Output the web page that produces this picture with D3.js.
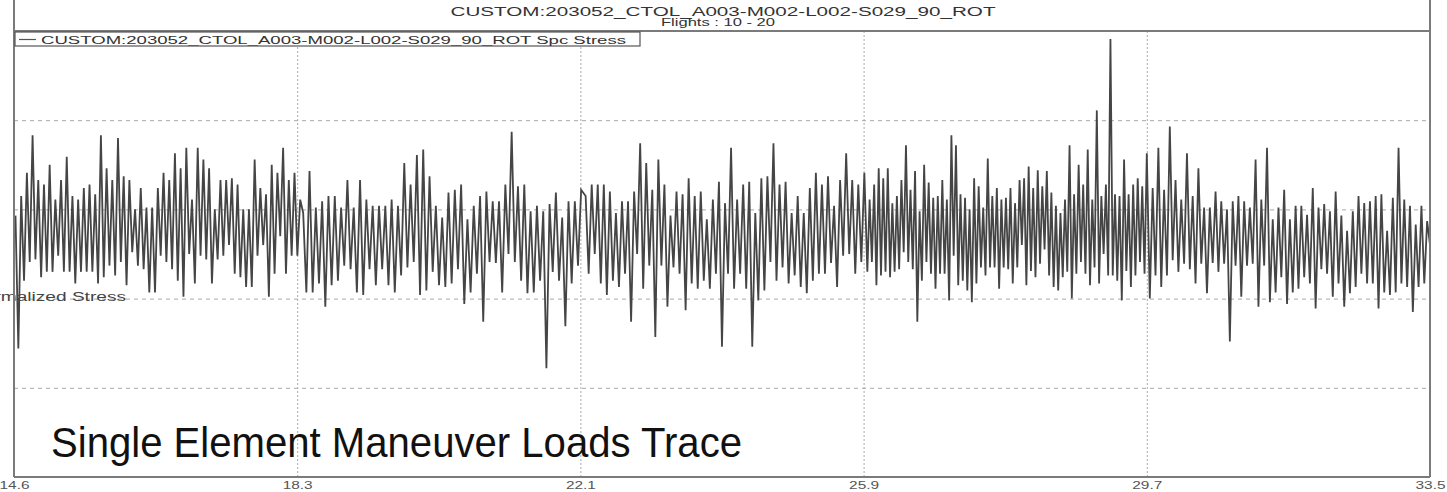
<!DOCTYPE html>
<html>
<head>
<meta charset="utf-8">
<script src="https://cdn.jsdelivr.net/npm/d3@7"></script>
<style>
  body { margin: 0; background: #fff; }
  svg { display: block; font-family: "Liberation Sans", Arial, sans-serif; }
</style>
</head>
<body>
<div class="canvas"></div>
<script>
// chart texts
const title = 'CUSTOM:203052_CTOL_A003-M002-L002-S029_90_ROT';
const subtitle = 'Flights : 10 - 20';
const legendLabel = 'CUSTOM:203052_CTOL_A003-M002-L002-S029_90_ROT Spc Stress';
const yLabel = 'Normalized Stress';
const caption = 'Single Element Maneuver Loads Trace';

// x axis (flight time) ticks
const xTicks = [14.6, 18.38, 22.16, 25.94, 29.72, 33.5];
const xTickLabels = ['14.6', '18.3', '22.1', '25.9', '29.7', '33.5'];
// horizontal grid levels
const yGrid = [1, 2, 3, 4];

// start / end time of each stretch of the trace
const segTimes = [[14.62, 18.42], [18.46, 22.17], [22.23, 25.95], [25.99, 29.72], [29.76, 33.5]];

// stress values, one array per stretch
const seg1 = [2.93,1.44,3.15,2.2,3.41,2.41,3.83,2.44,3.33,2.24,3.28,2.3,3.5,2.3,3.11,2.48,3.33,2.3,3.59,2.3,
  3.15,2.17,3.11,2.3,3.24,2.3,3.28,2.3,3.17,2.17,3.83,2.24,3.46,2.37,3.33,2.26,3.8,2.41,3.37,2.15,
  3.33,2.52,3.0,2.37,3.24,2.33,3.02,2.07,3.02,2.07,3.24,2.48,3.41,2.41,3.33,2.33,3.63,2.2,3.46,2.02,
  3.69,2.5,3.11,2.17,3.69,2.48,3.56,2.44,3.46,2.17,3.0,2.44,3.33,2.48,3.33,2.6,3.35,2.28,3.28,2.24,
  3.0,2.13,3.0,2.13,3.56,2.48,3.24,2.6,3.17,2.02,3.5,2.28,3.41,2.7,3.69,2.28,3.33,2.48,3.41,2.48,3.11];
const seg2 = [2.96,2.07,3.43,2.07,3.02,2.17,3.09,1.91,3.15,2.15,3.15,2.2,3.02,2.37,3.33,2.33,3.02,2.07,3.33,2.04,
  3.11,2.33,3.04,2.15,3.04,2.33,3.04,2.15,3.11,2.07,3.04,2.26,3.52,2.35,3.28,2.41,3.61,2.04,3.67,2.09,
  3.37,2.3,3.04,2.15,2.91,2.13,3.19,2.17,3.22,2.33,3.28,1.94,2.89,2.07,3.04,2.28,3.15,1.74,3.2,2.41,
  3.09,2.4,3.09,2.07,3.28,2.5,3.87,2.41,3.26,2.2,3.28,2.06,2.98,2.07,3.04,2.2,2.98,1.22,3.06,2.3,
  3.19,2.2,2.91,1.69,3.09,2.17,3.09,2.37,3.22];
const seg3 = [3.15,2.28,3.28,2.5,3.28,2.17,3.28,2.04,3.2,2.2,2.96,2.13,3.09,2.28,3.09,1.74,3.2,2.5,3.74,2.11,
  3.52,2.37,3.22,1.57,3.56,2.37,3.28,1.91,2.93,2.35,3.2,2.28,3.17,1.87,3.35,2.17,3.15,2.11,3.2,2.2,
  2.89,2.11,3.11,2.28,3.31,1.46,3.07,2.28,3.69,2.11,3.11,2.28,3.28,2.11,3.31,1.46,2.96,1.98,3.35,2.09,
  3.37,2.41,3.74,2.2,3.28,2.35,3.31,2.17,2.96,2.26,3.15,2.13,2.96,2.06,3.24,2.2,3.41,2.28,3.28,2.28,
  3.37,2.4,3.04,2.13,3.33,2.48,3.63,2.5,3.33,2.28,3.28,2.41,3.41];
const seg4 = [2.3,3.11,2.41,3.28,2.15,3.46,2.26,3.35,2.3,3.46,2.24,3.07,2.3,3.15,2.33,3.33,2.52,3.72,2.41,3.22,
  2.33,3.43,1.74,2.98,2.2,3.5,2.41,3.3,2.28,3.13,2.11,3.15,2.28,3.33,2.28,3.11,1.98,3.83,2.48,3.72,
  2.15,3.17,2.2,3.13,2.09,3.0,1.96,3.35,2.17,3.26,2.35,3.02,2.26,3.57,2.35,3.15,2.35,3.24,2.11,3.11,
  2.35,3.13,2.33,3.24,2.17,3.07,2.35,3.33,2.6,3.35,2.15,3.48,2.31,3.24,2.24,3.44,2.39,3.26,2.55,3.43,
  2.26,3.19,2.13,3.04,2.09,2.96,2.24,3.11,2.3,3.72,2.0,3.17,2.28,3.5,2.41,3.28,2.28,3.67,2.15,3.11,
  2.35,4.11,2.17,3.15,2.5,3.28,2.26,4.91,2.26,3.17,2.2,3.15,1.98,3.56,2.31,3.17,2.13,3.28,2.26,3.35,
  2.41,3.26,2.28,3.63];
const seg5 = [2.0,3.24,2.26,3.69,2.13,3.22,2.26,3.93,2.43,3.33,2.3,3.11,2.39,3.63,2.33,3.15,2.17,3.46,2.39,3.02,
  2.06,3.02,2.4,3.2,2.3,3.09,2.39,3.0,1.52,3.09,2.37,3.15,2.02,3.09,2.37,3.02,2.39,3.56,1.91,3.11,
  2.37,3.69,1.96,2.89,2.07,3.02,2.24,3.22,1.94,2.89,2.07,3.04,2.11,3.04,2.24,2.94,2.17,3.24,1.89,3.02,
  2.33,3.06,2.28,2.98,2.02,3.2,2.17,2.93,1.91,2.76,2.06,2.98,2.13,3.15,2.28,3.07,2.17,3.09,2.17,3.15,
  1.89,3.17,2.07,2.76,2.04,3.13,2.07,3.69,2.17,3.11,2.13,3.04,1.85,2.83,2.13,3.04,2.17,2.87,2.6];

const segments = [seg1, seg2, seg3, seg4, seg5];

// build the trace: each stretch sampled evenly between its start and end time
const trace = [];
segments.forEach((vals, s) => {
    const [t0, t1] = segTimes[s];
    vals.forEach((v, i) => {
        trace.push({ t: t0 + i * (t1 - t0) / (vals.length - 1), v: v });
    });
});

const width = 1447;
const height = 492;
const plot = { left: 14, right: 1430, top: 31, bottom: 477 };

const svg = d3.select('.canvas')
    .append('svg')
    .attr('width', width)
    .attr('height', height);

const x = d3.scaleLinear()
    .domain([14.6, 33.5])
    .range([plot.left, plot.right]);

const y = d3.scaleLinear()
    .domain([0, 5])
    .range([plot.bottom, plot.top]);

// grid lines
const hGrid = svg.append('g')
    .attr('transform', `translate(${plot.left},0)`)
    .call(d3.axisLeft(y).tickValues(yGrid).tickSize(-(plot.right - plot.left)).tickFormat(''));
hGrid.select('.domain').remove();
hGrid.selectAll('line')
    .attr('stroke', '#a8a8a8')
    .attr('stroke-width', 1)
    .attr('stroke-dasharray', '4,4');

const vGrid = svg.append('g')
    .attr('transform', `translate(0,${plot.bottom})`)
    .call(d3.axisBottom(x).tickValues(xTicks.slice(1, -1)).tickSize(-(plot.bottom - plot.top)).tickFormat(''));
vGrid.select('.domain').remove();
vGrid.selectAll('line')
    .attr('stroke', '#a8a8a8')
    .attr('stroke-width', 1)
    .attr('stroke-dasharray', '2,2');

// clip for the trace
svg.append('clipPath').attr('id', 'plot-clip')
    .append('rect')
    .attr('x', plot.left).attr('y', plot.top)
    .attr('width', plot.right - plot.left)
    .attr('height', plot.bottom - plot.top);

// y axis label, its start runs off the page like in the original
svg.append('text')
    .attr('x', 126)
    .attr('y', 301)
    .attr('text-anchor', 'end')
    .attr('font-size', 12)
    .attr('fill', '#444')
    .attr('textLength', 156)
    .attr('lengthAdjust', 'spacingAndGlyphs')
    .text(yLabel);

// the stress trace
const line = d3.line()
    .x(d => x(d.t))
    .y(d => y(d.v));

svg.append('path')
    .datum(trace)
    .attr('clip-path', 'url(#plot-clip)')
    .attr('d', line)
    .attr('fill', 'none')
    .attr('stroke', '#454545')
    .attr('stroke-width', 1.8)
    .attr('stroke-linejoin', 'miter')
    .attr('stroke-miterlimit', 4);

// frame
const frame = svg.append('g')
    .attr('stroke', '#7a7a7a')
    .attr('stroke-width', 2);
frame.append('line').attr('x1', plot.left).attr('x2', plot.left).attr('y1', 0).attr('y2', plot.bottom);
frame.append('line').attr('x1', plot.right).attr('x2', plot.right).attr('y1', 0).attr('y2', plot.bottom);
frame.append('line').attr('x1', plot.left).attr('x2', plot.right).attr('y1', plot.top).attr('y2', plot.top);
frame.append('line').attr('x1', plot.left).attr('x2', plot.right).attr('y1', plot.bottom).attr('y2', plot.bottom);

// titles
svg.append('text')
    .attr('x', 723)
    .attr('y', 16)
    .attr('text-anchor', 'middle')
    .attr('font-size', 12)
    .attr('fill', '#333')
    .attr('textLength', 545)
    .attr('lengthAdjust', 'spacingAndGlyphs')
    .text(title);

svg.append('text')
    .attr('x', 718)
    .attr('y', 26)
    .attr('text-anchor', 'middle')
    .attr('font-size', 10)
    .attr('fill', '#333')
    .attr('textLength', 114)
    .attr('lengthAdjust', 'spacingAndGlyphs')
    .text(subtitle);

// legend
const legend = svg.append('g');
legend.append('rect')
    .attr('x', 15)
    .attr('y', 32)
    .attr('width', 625)
    .attr('height', 14)
    .attr('fill', '#fff')
    .attr('stroke', '#555')
    .attr('stroke-width', 1.2);
legend.append('line')
    .attr('x1', 19).attr('x2', 36)
    .attr('y1', 39.5).attr('y2', 39.5)
    .attr('stroke', '#555')
    .attr('stroke-width', 1.2);
legend.append('text')
    .attr('x', 41)
    .attr('y', 43.5)
    .attr('font-size', 11)
    .attr('fill', '#333')
    .attr('textLength', 585)
    .attr('lengthAdjust', 'spacingAndGlyphs')
    .text(legendLabel);

// x axis tick labels
const xAxis = d3.axisBottom(x)
    .tickValues(xTicks)
    .tickFormat((d, i) => xTickLabels[i])
    .tickSize(0)
    .tickPadding(5);

const xAxisGroup = svg.append('g')
    .attr('transform', `translate(0,${plot.bottom})`)
    .call(xAxis);
xAxisGroup.select('.domain').remove();
xAxisGroup.selectAll('text')
    .attr('font-size', 10)
    .attr('font-family', '"Liberation Sans", Arial, sans-serif')
    .attr('fill', '#555')
    .attr('textLength', 30)
    .attr('lengthAdjust', 'spacingAndGlyphs');

// caption written over the plot
svg.append('text')
    .attr('x', 51)
    .attr('y', 457)
    .attr('font-size', 42)
    .attr('fill', '#111')
    .attr('textLength', 691)
    .attr('lengthAdjust', 'spacingAndGlyphs')
    .text(caption);
</script>
</body>
</html>
